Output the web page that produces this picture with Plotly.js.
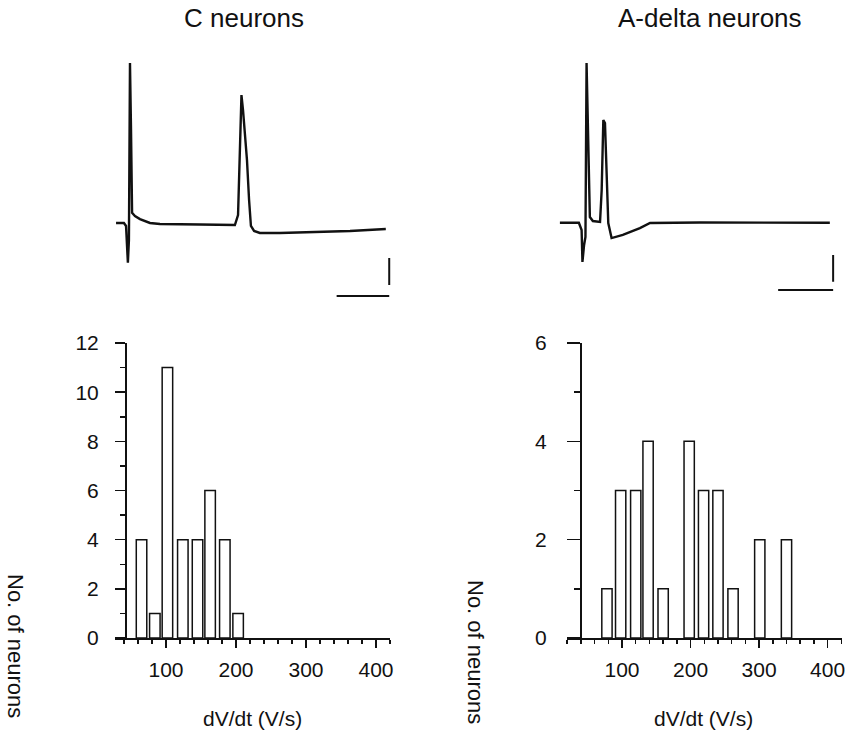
<!DOCTYPE html>
<html>
<head>
<meta charset="utf-8">
<script src="https://cdn.plot.ly/plotly-3.0.1.min.js"></script>
<style>html,body{margin:0;padding:0;background:#fff;}#chart{width:845px;height:733px;}</style>
</head>
<body>
<div id="chart"></div>
<script>
// ---- Data ----
// C neuron action potential trace (time in ms, voltage in mV, arbitrary calibration)
const cTime = [2.3, 5.3, 6.1, 6.5, 6.8, 7.2, 7.6, 8.0, 8.4, 9.5, 11.4, 15.2, 19.0, 34.2, 47.5, 48.7, 49.4, 50.0, 50.6, 51.3, 52.1, 52.9, 53.6, 54.8, 57.0, 64.6, 76.0, 91.3, 104.9];
const cVolt = [1.5, 1.5, -0.7, -22, -28, -11, 120, 70, 9, 6.7, 4.4, 1.5, 0.7, 0.4, 0, 7.4, 55.6, 96.3, 85, 70, 48, 18.5, -0.7, -4.4, -5.9, -5.9, -5.2, -4.4, -3.0];
// A-delta neuron action potential trace
const aTime = [3.6, 10.5, 11.5, 11.8, 12.4, 12.9, 13.3, 13.8, 14.5, 15.6, 18.2, 18.8, 19.4, 20.0, 20.6, 21.2, 22.4, 26.5, 32.7, 36.4, 54.5, 101.8];
const aVolt = [0.2, 0.2, -5.3, -29.3, -16.5, -10.5, 120.3, 62.4, 4.5, 1.5, 0.8, 24.8, 77.4, 75.2, 30.1, 0, -11.3, -9.0, -3.8, 0, 0.4, 0.2];
// Scale bars (vertical segment, gap, horizontal segment)
const cScaleT = [106.2, 106.2, null, 86.2, 106.2];
const cScaleV = [-24.4, -44.4, null, -52.6, -52.6];
const aScaleT = [103, 103, null, 83, 103];
const aScaleV = [-24.1, -44.1, null, -50.4, -50.4];

// Histograms: dV/dt bin centres (V/s) and counts
const cBins = [65, 84, 102, 124, 145, 163, 184, 203];
const cCounts = [4, 1, 11, 4, 4, 6, 4, 1];
const aBins = [78, 98, 120, 138, 160, 198, 219, 240, 262, 301, 340];
const aCounts = [1, 3, 3, 4, 1, 4, 3, 3, 1, 2, 2];

const titles = ["C neurons", "A-delta neurons"];
const xTitle = "dV/dt (V/s)";
const yTitle = "No. of neurons";

// ---- Layout helpers ----
const W = 845, H = 733;
const px = x => x / W;
const py = y => 1 - y / H;
const FONT = "Liberation Sans, Arial, sans-serif";

const traceLine = {color: "#111", width: 2.4};
const data = [
  {x: cTime, y: cVolt, xaxis: "x", yaxis: "y", type: "scatter", mode: "lines", line: traceLine, hoverinfo: "skip"},
  {x: cScaleT, y: cScaleV, xaxis: "x", yaxis: "y", type: "scatter", mode: "lines", line: {color: "#111", width: 2}, connectgaps: false, hoverinfo: "skip"},
  {x: aTime, y: aVolt, xaxis: "x2", yaxis: "y2", type: "scatter", mode: "lines", line: traceLine, hoverinfo: "skip"},
  {x: aScaleT, y: aScaleV, xaxis: "x2", yaxis: "y2", type: "scatter", mode: "lines", line: {color: "#111", width: 2}, connectgaps: false, hoverinfo: "skip"},
  {x: cBins, y: cCounts, xaxis: "x3", yaxis: "y3", type: "bar", width: 15,
   marker: {color: "#fff", line: {color: "#111", width: 1.5}}, hoverinfo: "skip"},
  {x: aBins, y: aCounts, xaxis: "x4", yaxis: "y4", type: "bar", width: 15,
   marker: {color: "#fff", line: {color: "#111", width: 1.5}}, hoverinfo: "skip"}
];

const hidden = {visible: false, fixedrange: true};
function histX(domain, range, anchor) {
  return {
    domain: domain, range: range, anchor: anchor,
    showline: true, linecolor: "#111", linewidth: 1.5,
    showgrid: false, zeroline: false,
    ticks: "outside", ticklen: 8, tickwidth: 1.5, tickcolor: "#111",
    tick0: 0, dtick: 100,
    minor: {ticks: "outside", ticklen: 4, tickwidth: 1.5, tickcolor: "#111", tick0: 0, dtick: 20, showgrid: false},
    tickfont: {family: FONT, size: 21, color: "#111"},
    ticklabelstandoff: 4,
    ticklabeloverflow: "allow"
  };
}
function histY(domain, range, pos, majorLen, minorLen, standoff) {
  return {
    domain: domain, range: range, anchor: "free", position: pos,
    showline: true, linecolor: "#111", linewidth: 1.5,
    showgrid: false, zeroline: false,
    ticks: "outside", ticklen: majorLen, tickwidth: 1.5, tickcolor: "#111",
    tick0: 0, dtick: 2,
    minor: {ticks: "outside", ticklen: minorLen, tickwidth: 1.5, tickcolor: "#111", tick0: 0, dtick: 1, showgrid: false},
    tickfont: {family: FONT, size: 21, color: "#111"},
    ticklabelstandoff: standoff,
    ticklabeloverflow: "allow"
  };
}

const layout = {
  width: W, height: H,
  margin: {l: 0, r: 0, t: 0, b: 0},
  paper_bgcolor: "#fff", plot_bgcolor: "rgba(0,0,0,0)",
  showlegend: false,
  xaxis: Object.assign({domain: [px(110), px(395)], range: [0, 108.4], anchor: "y"}, hidden),
  yaxis: Object.assign({domain: [py(300.6), py(54.9)], range: [-56, 126], anchor: "x"}, hidden),
  xaxis2: Object.assign({domain: [px(550), px(840)], range: [0, 105.5], anchor: "y2"}, hidden),
  yaxis2: Object.assign({domain: [py(297.5), py(55.4)], range: [-56, 126], anchor: "x2"}, hidden),
  xaxis3: histX([px(115), px(390)], [27.1, 420], "y3"),
  yaxis3: histY([py(638), py(343)], [0, 12], px(125), 10, 5, 12),
  xaxis4: histX([px(567), px(842)], [19.7, 421], "y4"),
  yaxis4: histY([py(638), py(343)], [0, 6], px(580), 13, 6, 16),
  annotations: [
    {text: titles[0], x: px(244), y: py(18), xref: "paper", yref: "paper", showarrow: false,
     font: {family: FONT, size: 26, color: "#111"}, xanchor: "center", yanchor: "middle"},
    {text: titles[1], x: px(710), y: py(18), xref: "paper", yref: "paper", showarrow: false,
     font: {family: FONT, size: 26, color: "#111"}, xanchor: "center", yanchor: "middle"},
    {text: xTitle, x: px(252), y: py(718), xref: "paper", yref: "paper", showarrow: false,
     font: {family: FONT, size: 21, color: "#111"}, xanchor: "center", yanchor: "middle"},
    {text: xTitle, x: px(703), y: py(718), xref: "paper", yref: "paper", showarrow: false,
     font: {family: FONT, size: 21, color: "#111"}, xanchor: "center", yanchor: "middle"},
    {text: yTitle, x: px(16), y: py(646), xref: "paper", yref: "paper", showarrow: false, textangle: 90,
     font: {family: FONT, size: 22, color: "#111"}, xanchor: "center", yanchor: "middle"},
    {text: yTitle, x: px(476), y: py(652), xref: "paper", yref: "paper", showarrow: false, textangle: 90,
     font: {family: FONT, size: 22, color: "#111"}, xanchor: "center", yanchor: "middle"}
  ]
};

Plotly.newPlot("chart", data, layout, {displayModeBar: false, staticPlot: true});
</script>
</body>
</html>
